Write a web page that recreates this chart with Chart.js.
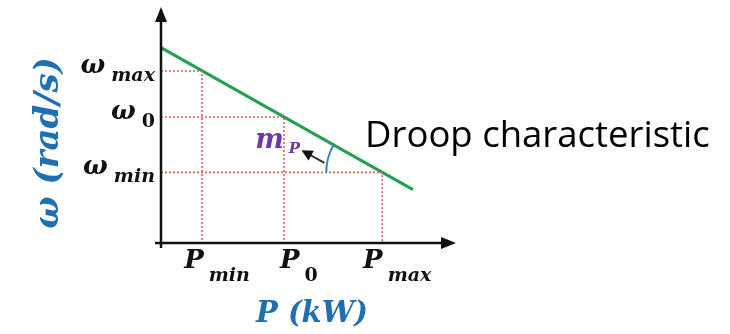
<!DOCTYPE html>
<html>
<head>
<meta charset="utf-8">
<script src="https://cdn.jsdelivr.net/npm/chart.js@4.4.1/dist/chart.umd.min.js"></script>
<style>
  body { margin: 0; background: #fff; }
  canvas { display: block; }
</style>
</head>
<body>
<canvas id="droopChart" width="730" height="334"></canvas>
<script>
// operating points on the droop line (P in kW, ω in rad/s, arbitrary units)
const pTicks = [1.0, 3.0, 5.4];
const pNames = ["min", "0", "max"];
const wTicks = [4.19, 3.07, 1.72];
const wNames = ["max", "0", "min"];

// droop characteristic end points
const droopP = [0, 6.15];
const droopW = [4.76, 1.30];

// axis extents
const pAxisMax = 7.2;
const wAxisMax = 5.75;

const serif = '"DejaVu Serif", "Liberation Serif", serif';

// dotted guides: ω axis -> operating point -> P axis
const guideSets = pTicks.map((p, i) => ({
  data: [{ x: 0, y: wTicks[i] }, { x: p, y: wTicks[i] }, { x: p, y: 0 }],
  borderColor: "#e35a5a",
  borderWidth: 1.6,
  borderDash: [2, 2],
  pointRadius: 0,
  clip: false
}));

const droopSet = {
  data: droopP.map((p, i) => ({ x: p, y: droopW[i] })),
  borderColor: "#23a052",
  borderWidth: 3,
  pointRadius: 0,
  clip: false
};

function label(ctx, main, sub, x, y, align, mainFont, subFont, drop, gap) {
  ctx.font = mainFont;
  const wm = ctx.measureText(main).width;
  ctx.font = subFont;
  const ws = ctx.measureText(sub).width;
  const total = wm + gap + ws;
  const x0 = align === "right" ? x - total : align === "center" ? x - total / 2 : x;
  ctx.textAlign = "left";
  ctx.textBaseline = "alphabetic";
  ctx.font = mainFont;
  ctx.fillText(main, x0, y);
  ctx.font = subFont;
  ctx.fillText(sub, x0 + wm + gap, y + drop);
}

function arrowHead(ctx, tx, ty, angle, len, half) {
  ctx.save();
  ctx.translate(tx, ty);
  ctx.rotate(angle);
  ctx.beginPath();
  ctx.moveTo(0, 0);
  ctx.lineTo(-len, -half);
  ctx.lineTo(-len, half);
  ctx.closePath();
  ctx.fill();
  ctx.restore();
}

const decorations = {
  id: "decorations",
  afterDatasetsDraw(chart) {
    const ctx = chart.ctx;
    const xs = chart.scales.x, ys = chart.scales.y;
    const x0 = xs.getPixelForValue(0), y0 = ys.getPixelForValue(0);
    const xEnd = xs.getPixelForValue(pAxisMax), yEnd = ys.getPixelForValue(wAxisMax);

    ctx.save();
    // axes with arrows
    ctx.strokeStyle = "#111";
    ctx.fillStyle = "#111";
    ctx.lineWidth = 2.5;
    ctx.beginPath();
    ctx.moveTo(x0 - 6, y0);
    ctx.lineTo(xEnd - 8, y0);
    ctx.moveTo(x0, y0 + 5);
    ctx.lineTo(x0, yEnd + 8);
    ctx.stroke();
    arrowHead(ctx, xEnd, y0, 0, 15, 6);
    arrowHead(ctx, x0, yEnd, -Math.PI / 2, 15, 6);

    // ω tick labels
    wTicks.forEach((w, i) => {
      const y = ys.getPixelForValue(w);
      const subFont = /\d/.test(wNames[i]) ? `bold 19px ${serif}` : `bold italic 19px ${serif}`;
      label(ctx, "ω", wNames[i], x0 - 6, y + 2, "right", `bold italic 26px ${serif}`, subFont, 8, 6);
    });

    // P tick labels
    pTicks.forEach((p, i) => {
      const x = xs.getPixelForValue(p);
      const subFont = /\d/.test(pNames[i]) ? `bold 19px ${serif}` : `bold italic 19px ${serif}`;
      label(ctx, "P", pNames[i], x + 15, y0 + 25, "center", `bold italic 26px ${serif}`, subFont, 13, 5);
    });

    // axis titles
    ctx.fillStyle = "#1f6fb5";
    ctx.font = `bold italic 29px ${serif}`;
    ctx.textAlign = "center";
    ctx.fillText("P (kW)", 312, 322);
    ctx.save();
    ctx.translate(58, 143);
    ctx.rotate(-Math.PI / 2);
    ctx.font = `bold italic 34px ${serif}`;
    ctx.fillText("ω (rad/s)", 0, 0);
    ctx.restore();

    // slope mark at the P_max operating point
    const cx = xs.getPixelForValue(pTicks[2]), cy = ys.getPixelForValue(wTicks[2]);
    const ax = xs.getPixelForValue(droopP[0]), ay = ys.getPixelForValue(droopW[0]);
    const lineAng = Math.atan2(ay - cy, ax - cx);
    ctx.strokeStyle = "#3f82c8";
    ctx.lineWidth = 2;
    ctx.beginPath();
    ctx.arc(cx, cy, 56, lineAng, -Math.PI, true);
    ctx.stroke();

    // arrow pointing to the m_P label
    const tailX = xs.getPixelForValue(3.99), tailY = ys.getPixelForValue(1.95);
    const tipX = xs.getPixelForValue(3.43), tipY = ys.getPixelForValue(2.26);
    const ang = Math.atan2(tipY - tailY, tipX - tailX);
    ctx.strokeStyle = "#333";
    ctx.fillStyle = "#111";
    ctx.beginPath();
    ctx.moveTo(tailX, tailY);
    ctx.lineTo(tipX - 6 * Math.cos(ang), tipY - 6 * Math.sin(ang));
    ctx.stroke();
    arrowHead(ctx, tipX, tipY, ang, 11, 5.5);

    ctx.fillStyle = "#6b3aa6";
    label(ctx, "m", "P", xs.getPixelForValue(2.3), ys.getPixelForValue(2.32), "left",
      `bold italic 27px ${serif}`, `bold italic 15px ${serif}`, 5, 5);

    // caption
    ctx.fillStyle = "#000";
    ctx.font = '36.5px "Open Sans", "Noto Sans", sans-serif';
    ctx.textAlign = "left";
    ctx.fillText("Droop characteristic", xs.getPixelForValue(4.98), ys.getPixelForValue(2.34));
    ctx.restore();
  }
};

new Chart(document.getElementById("droopChart"), {
  type: "line",
  data: { datasets: [...guideSets, droopSet] },
  options: {
    responsive: false,
    animation: false,
    layout: { padding: { left: 161, top: 7, right: 274, bottom: 91 } },
    plugins: { legend: { display: false }, tooltip: { enabled: false } },
    scales: {
      x: { type: "linear", min: 0, max: pAxisMax, display: false },
      y: { type: "linear", min: 0, max: wAxisMax, display: false }
    }
  },
  plugins: [decorations]
});
</script>
</body>
</html>
